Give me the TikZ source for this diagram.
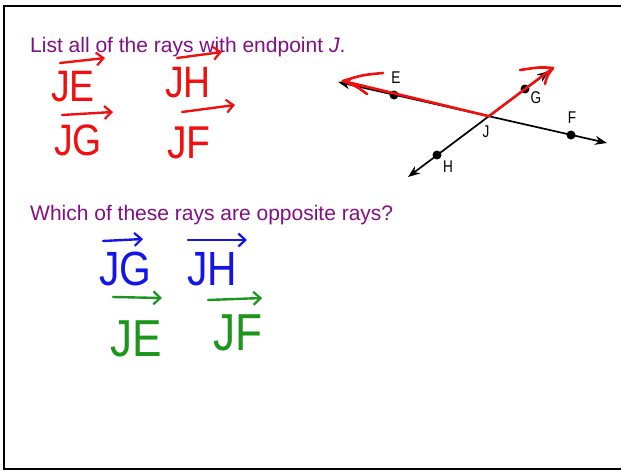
\documentclass[tikz,border=0pt]{standalone}
\usepackage{fontspec}
\setmainfont{Liberation Sans}
\newfontfamily\condfont[FakeStretch=0.8]{Liberation Sans}
\newfontfamily\handfont[FakeStretch=0.85]{Liberation Sans}
\usetikzlibrary{arrows.meta,calc}
\definecolor{qpurple}{RGB}{128,16,132}
\definecolor{inkred}{RGB}{240,16,16}
\definecolor{inkblue}{RGB}{20,20,230}
\definecolor{inkgreen}{RGB}{30,150,30}
\begin{document}
\begin{tikzpicture}[x=1pt,y=-1pt,
  prompt/.style={anchor=base west,inner sep=0pt,text=qpurple,font=\fontsize{21}{25}\selectfont},
  hand/.style={anchor=base west,inner sep=0pt},
  over/.style={line width=2.4pt,line cap=round,line join=round,-{Straight Barb[length=7pt,width=13pt,line width=2.2pt]}},
  geo/.style={line width=1.7pt,{Stealth[length=12pt,width=9pt]}-{Stealth[length=12pt,width=9pt]}},
  ptdot/.style={circle,fill=black,inner sep=0pt,minimum size=9pt},
  lbl/.style={inner sep=0pt,font=\condfont\fontsize{17}{19}\selectfont},
  redink/.style={draw=inkred,line width=2.6pt,line cap=round,line join=round}]
\useasboundingbox (0,0) rectangle (621,471);
\fill[white] (0,0) rectangle (621,471);
\draw[line width=2.5pt] (621,6) -- (4,6) -- (4,469) -- (621,469);

% prompts
\node[prompt] (q1) at (30,52) {List all of the rays with endpoint \textit{J}.};
\node[prompt] (q2) at (30,220) {Which of these rays are opposite rays?};

% geometry figure
\coordinate (Etip) at (338,82);
\coordinate (Ftip) at (607,143);
\coordinate (Htip) at (408,177);
\coordinate (Gtip) at (549,71);
\node[ptdot] (E) at (394,95) {};
\node[ptdot] (F) at (571,135) {};
\node[ptdot] (G) at (525,89) {};
\node[ptdot] (H) at (437,155) {};
\coordinate (J) at (intersection of Etip--Ftip and Htip--Gtip);
\draw[geo] (Etip) -- (Ftip);
\draw[geo] (Htip) -- (Gtip);
\node[lbl] (lE) at (396,78) {E};
\node[lbl] (lF) at (572,118) {F};
\node[lbl] (lG) at (536,98) {G};
\node[lbl] (lH) at (448,167) {H};
\node[lbl] (lJ) at (486,132) {J};

% red overlay
\coordinate (rE) at (343,81);
\coordinate (rEa) at (383,73);
\coordinate (rEb) at (367,94);
\coordinate (rG) at (553,68);
\coordinate (rGa) at (520,70);
\coordinate (rGb) at (545,84);
\draw[redink] (J) -- (rE);
\draw[redink] (rEa) .. controls (362,75) .. (rE) .. controls (356,86) .. (rEb);
\draw[redink] (J) -- (rG);
\draw[redink] (rGa) .. controls (540,67) .. (rG) .. controls (547,76) .. (rGb);

% red handwriting
\node[hand,text=inkred,font=\handfont\fontsize{44}{50}\selectfont] (rJE) at (51,101) {JE};
\draw[over,inkred] ($(rJE.base west)+(9,-38)$) -- ++(45,-5);
\node[hand,text=inkred,font=\handfont\fontsize{44}{50}\selectfont] (rJH) at (165,97) {JH};
\draw[over,inkred] ($(rJH.base west)+(12,-39)$) -- ++(45,-6);
\node[hand,text=inkred,font=\handfont\fontsize{44}{50}\selectfont] (rJG) at (54,155) {JG};
\draw[over,inkred] ($(rJG.base west)+(8,-40)$) -- ++(51,-3);
\node[hand,text=inkred,font=\handfont\fontsize{46}{50}\selectfont] (rJF) at (167,158) {JF};
\draw[over,inkred] ($(rJF.base west)+(15,-46)$) -- ++(53,-7);

% blue handwriting
\node[hand,text=inkblue,font=\handfont\fontsize{48}{52}\selectfont] (bJG) at (99,285) {JG};
\draw[over,inkblue] ($(bJG.base west)+(4,-44)$) -- ++(40,-2);
\node[hand,text=inkblue,font=\handfont\fontsize{48}{52}\selectfont] (bJH) at (187,285) {JH};
\draw[over,inkblue] ($(bJH.base west)+(1,-45)$) -- ++(59,0);

% green handwriting
\node[hand,text=inkgreen,font=\handfont\fontsize{52}{56}\selectfont] (gJE) at (110,356) {JE};
\draw[over,inkgreen] ($(gJE.base west)+(3,-59)$) -- ++(49,1);
\node[hand,text=inkgreen,font=\handfont\fontsize{52}{56}\selectfont] (gJF) at (213,350) {JF};
\draw[over,inkgreen] ($(gJF.base west)+(-5,-50)$) -- ++(54,-2);
\end{tikzpicture}
\end{document}
